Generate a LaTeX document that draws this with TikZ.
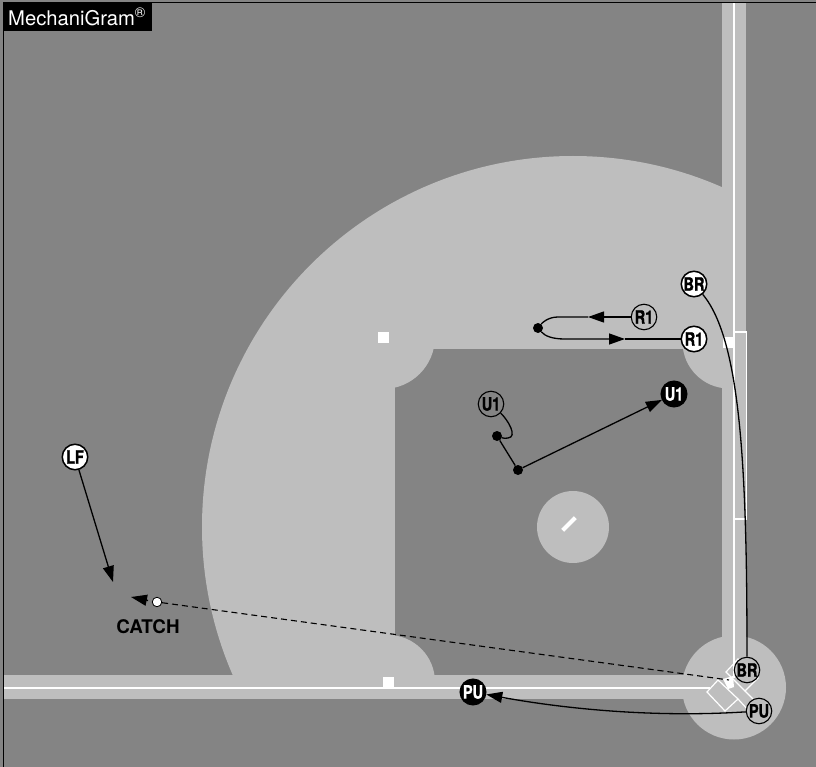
\documentclass[tikz,border=0pt]{standalone}
\usepackage{fontspec}
\setmainfont{TeX Gyre Heros}
\newfontfamily\narrowfont[FakeStretch=0.78,BoldFeatures={FakeBold=1.2}]{TeX Gyre Heros}
\usetikzlibrary{arrows.meta,shapes.misc}
\definecolor{fieldDark}{HTML}{848484}
\definecolor{fieldLight}{HTML}{BEBEBE}

\begin{document}
\begin{tikzpicture}[
      x=1pt, y=-1pt,
      actor/.style={draw=black, line width=1.5pt, circle, inner sep=0pt, minimum size=25.5pt,
        font=\narrowfont\bfseries\fontsize{18.5}{18.5}\selectfont},
      moved/.style={actor, fill=white},
      start/.style={actor, line width=1.1pt, fill=fieldLight},
      startdark/.style={actor, line width=1.1pt, fill=fieldDark},
      ended/.style={actor, fill=black, text=white},
      spot/.style={circle, fill=black, inner sep=0pt, minimum size=10pt},
      chalk/.style={draw=white, line width=1.2pt},
      foul/.style={draw=white, line width=2pt},
      bag/.style={fill=white},
      path/.style={black, line width=1.3pt},
      arr/.style={path, -{Triangle[length=16pt,width=11pt]}}]
    \useasboundingbox (0,0) rectangle (816,767);
    % field
    \fill[fieldDark] (0,0) rectangle (816,767);
    \begin{scope}
      \clip (3,3) rectangle (722,675);
      \fill[fieldLight] (573,527) circle[radius=371];
    \end{scope}
    \fill[fieldDark] (395,349) rectangle (722,675);
    \fill[fieldLight] (722,3) rectangle (746,660);
    \fill[fieldLight] (3,675) rectangle (700,699);
    \begin{scope}
      \clip (395,349) rectangle (722,675);
      \fill[fieldLight] (383,337) circle[radius=52];
      \fill[fieldLight] (729,342) circle[radius=46.5];
      \fill[fieldLight] (388,682) circle[radius=47];
    \end{scope}
    \fill[fieldLight] (734,687.5) circle[radius=52];
    \fill[fieldLight] (573,527) circle[radius=36];
    % chalk lines
    \draw[foul] (734,3) -- (734,678);
    \draw[foul] (3,687.5) -- (710,687.5);
    \draw[chalk] (734,332) rectangle (746.5,519);
    \draw[chalk] (707,692) -- (718,680) -- (738,699) -- (725,711) -- cycle;
    \draw[chalk] (726,672) -- (738,659) -- (758,678) -- (745,691) -- cycle;
    \draw[chalk] (738,699) -- (749,711);
    \draw[chalk] (745,691) -- (757,703);
    % bases
    \fill[bag] (378,332) rectangle (389,343);
    \fill[bag] (723,337) rectangle (734,348);
    \fill[bag] (383,677) rectangle (394,688);
    \fill[bag] (723,679) -- (733,676) -- (734,687) -- (728,689) -- cycle;
    \fill[bag, rotate around={45:(569,524)}] (560,522) rectangle (578,526);
    % players
    \node[moved] (br) at (694,284) {BR};
    \node[moved] (rone) at (694,339) {R1};
    \node[start] (ronestart) at (644,317) {R1};
    \node[startdark] (uone) at (491,404) {U1};
    \node[ended] (uoneend) at (674,394) {U1};
    \node[moved] (lf) at (75,457) {LF};
    \node[ended] (pu) at (473,692) {PU};
    \node[start] (brstart) at (747,670) {BR};
    \node[start] (pustart) at (759,711) {PU};
    \node[spot] (turn) at (538,328) {};
    \node[spot] (uoneturn) at (497,436) {};
    \node[spot] (uonepivot) at (518,470) {};
    \node[draw=black, line width=.8pt, fill=white, circle, inner sep=0pt, minimum size=9.5pt] (ball) at (157,602) {};
    \node[font=\bfseries\fontsize{18.8}{18.8}\selectfont] (catch) at (148,627) {CATCH};
    \node[fill=black, anchor=north west, minimum width=149pt, minimum height=28pt, inner sep=0pt] (logo) at (3,3) {};
    \node[text=white, anchor=west, inner sep=0pt, font=\fontsize{20.2}{20.2}\selectfont] (logotext) at (8,17) {MechaniGram\textsuperscript{®}};
    % movements
    \coordinate (lfend) at (113,582);
    \coordinate (home) at (729,680);
    \coordinate (ballhead) at (148,600.5);
    \coordinate (ballend) at (131,597);
    \coordinate (rtop) at (588,317);
    \coordinate (rbottom) at (625,339);
    \draw[arr] (lf) -- (lfend);
    \draw[black, line width=1.1pt, dash pattern=on 6pt off 4pt] (ball) -- (home);
    \draw[arr] (ballhead) -- (ballend);
    \draw[arr] (ronestart) -- (rtop);
    \draw[path] (rtop) -- (558,317) .. controls (548,317) and (542,323) .. (turn);
    \draw[arr] (turn) .. controls (545,336) and (552,339) .. (565,339) -- (rbottom);
    \draw[path] (rbottom) -- (rone);
    \draw[path] (uone) .. controls (508,420) and (518,437) .. (508,438) .. controls (504,439) and (500,437) .. (uoneturn);
    \draw[path] (uoneturn) -- (uonepivot);
    \draw[arr] (uonepivot) -- (uoneend);
    \draw[path] (br) .. controls (741,340) and (747,470) .. (brstart);
    \draw[arr] (pustart) .. controls (650,718) and (560,708) .. (pu);
    % frame
    \draw[black, line width=1.6pt] (3.5,2.4) -- (816,2.4);
    \draw[black, line width=1.6pt] (3.5,2.4) -- (3.5,767);
\end{tikzpicture}
\end{document}
